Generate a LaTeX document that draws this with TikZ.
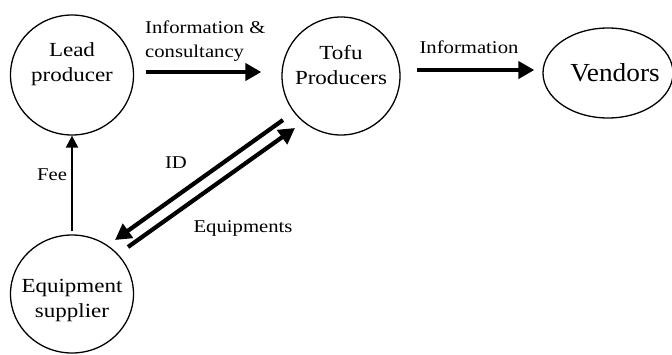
\documentclass[tikz,border=0pt]{standalone}
\usepackage{fontspec}
\setmainfont[FakeStretch=1.15]{Liberation Serif}
\newfontfamily\vendfont[FakeStretch=1.05]{Liberation Serif}
\usetikzlibrary{shapes.geometric,arrows.meta}
\begin{document}
\begin{tikzpicture}[x=1pt,y=-1pt,
  actor/.style={draw,ellipse,line width=1.3pt,inner sep=0pt},
  intext/.style={align=center,inner sep=0pt,font=\fontsize{20}{25}\selectfont},
  lbl/.style={font=\fontsize{18}{24}\selectfont,inner sep=0pt},
  flow/.style={line width=4.2pt,-{Triangle[length=16pt,width=17pt]}},
  thin flow/.style={line width=2.2pt,-{Triangle[length=12pt,width=12pt]}}]
\useasboundingbox (0,0) rectangle (672,354);
\node[actor,minimum width=123pt,minimum height=120pt,
  label={[intext,yshift=11pt]center:Lead\\producer}] (lead) at (72,75) {};
\node[actor,minimum width=118pt,minimum height=118pt,
  label={[intext,yshift=11pt]center:Tofu\\Producers}] (tofu) at (341,76) {};
\node[actor,minimum width=130pt,minimum height=90pt,
  label={[inner sep=0pt,xshift=7pt,font=\vendfont\fontsize{26}{30}\selectfont]center:Vendors}] (vend) at (608,73) {};
\node[actor,minimum width=123pt,minimum height=118pt,
  label={[intext,yshift=-7pt]center:Equipment\\supplier}] (equip) at (72,294) {};
\draw[flow] ([shift={(11.5,-3)}]lead.east) -- ([shift={(-20,-4)}]tofu.west);
\draw[flow] ([shift={(16,-6)}]tofu.east) -- ([shift={(-8,-3)}]vend.west);
\draw[thin flow] ([yshift=3pt]equip.north) -- (lead.south);
\draw[flow] ([shift={(-58,44)}]tofu.center) -- ([shift={(43,-54)}]equip.center);
\draw[flow] ([shift={(56,-47)}]equip.center) -- ([shift={(-46,52)}]tofu.center);
\node[lbl,anchor=west,align=left] (l1) at (145,41) {Information \&\\consultancy};
\node[lbl] (l2) at (469,47) {Information};
\node[lbl] (l3) at (52,175) {Fee};
\node[lbl] (l4) at (176,163) {ID};
\node[lbl] (l5) at (243,228) {Equipments};
\end{tikzpicture}
\end{document}
